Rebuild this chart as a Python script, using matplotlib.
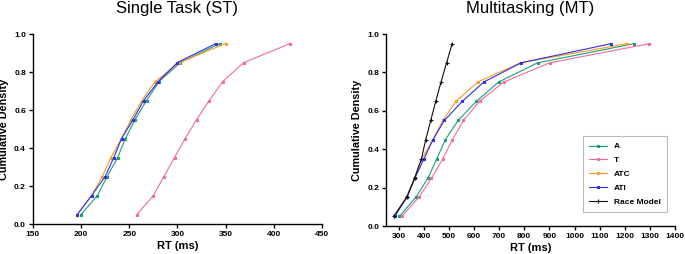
import matplotlib
matplotlib.use('Agg')
import matplotlib.pyplot as plt

plt.rcParams['font.family'] = ['Liberation Sans', 'DejaVu Sans']

quantiles = [0.05, 0.15, 0.25, 0.35, 0.45, 0.55, 0.65, 0.75, 0.85, 0.95]

# single task RTs (ms) at each quantile
st_A = [200, 217, 227, 238, 246, 256, 268, 281, 303, 344]
st_T = [258, 275, 286, 297, 308, 320, 333, 347, 369, 417]
st_ATC = [196, 211, 222, 231, 242, 252, 263, 277, 302, 350]
st_ATI = [196, 211, 225, 234, 242, 254, 265, 280, 300, 340]

# multitasking RTs (ms) at each quantile
mt_A = [303, 369, 417, 452, 486, 537, 610, 698, 853, 1238]
mt_T = [312, 381, 431, 476, 514, 558, 622, 718, 901, 1298]
mt_ATC = [283, 331, 363, 392, 437, 476, 529, 615, 785, 1210]
mt_ATI = [285, 333, 365, 401, 437, 482, 554, 639, 787, 1146]
mt_race = [280, 333, 364, 391, 408, 428, 448, 469, 491, 513]

labels = ['A', 'T', 'ATC', 'ATI', 'Race Model']
colors = ['#1b9e77', '#f06c9b', '#f59a23', '#3030e8', '#111111']
markers = ['s', 's', 'o', 's', '+']
msizes = [2.0, 2.0, 1.6, 1.6, 2.6]

fig = plt.figure(figsize=(6.85, 2.54), dpi=100)
ax1 = fig.add_axes([0.048, 0.118, 0.422, 0.748])
ax2 = fig.add_axes([0.5635, 0.110, 0.422, 0.756])


def draw(ax, series):
	for i, xs in enumerate(series):
		ax.plot(xs, quantiles, color=colors[i], marker=markers[i], ms=msizes[i],
			lw=0.8, mew=0.8, label=labels[i])


def style(ax, title, xlim, xticks):
	ax.set_xlim(*xlim)
	ax.set_ylim(0, 1.0)
	ax.set_xticks(xticks)
	ax.set_yticks([0, 0.2, 0.4, 0.6, 0.8, 1.0])
	ax.set_yticklabels(['%.1f' % v for v in [0, 0.2, 0.4, 0.6, 0.8, 1.0]])
	for s in ['top', 'right']:
		ax.spines[s].set_visible(False)
	for s in ['left', 'bottom']:
		ax.spines[s].set_linewidth(1.0)
	ax.tick_params(length=3, width=1.0, labelsize=6, pad=2)
	for t in ax.get_xticklabels() + ax.get_yticklabels():
		t.set_fontweight('bold')
	ax.set_xlabel('RT (ms)', fontsize=8, fontweight='bold', labelpad=2)
	ax.set_ylabel('Cumulative Density', fontsize=7.8, fontweight='bold')
	ax.yaxis.set_label_coords(-0.082, 0.5)
	ax.set_title(title, fontsize=12, pad=15)


draw(ax1, [st_A, st_T, st_ATC, st_ATI])
style(ax1, 'Single Task (ST)', (150, 450), range(150, 451, 50))

draw(ax2, [mt_A, mt_T, mt_ATC, mt_ATI, mt_race])
style(ax2, 'Multitasking (MT)', (250, 1400), range(300, 1401, 100))

leg = ax2.legend(loc='lower right', bbox_to_anchor=(0.972, 0.073), borderaxespad=0,
	prop={'weight': 'bold', 'size': 6}, fancybox=False, edgecolor='#aaaaaa',
	handlelength=2.2, labelspacing=0.72, borderpad=0.75, handletextpad=0.8)
leg.get_frame().set_linewidth(0.8)

plt.savefig('out.png', dpi=100)
